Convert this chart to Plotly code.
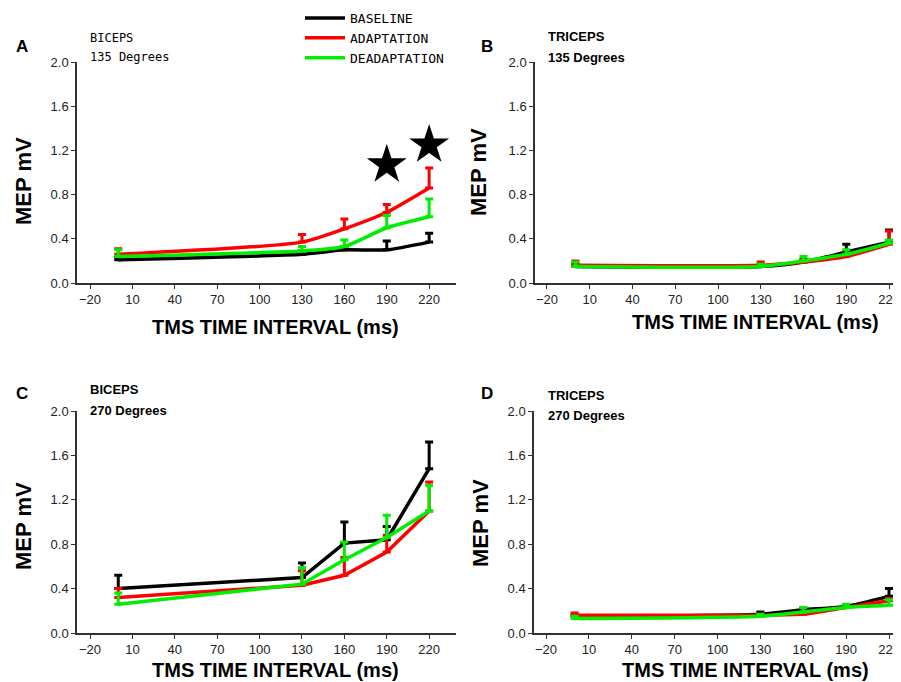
import plotly.graph_objects as go

x_ms = [0, 130, 160, 190, 220]
tick_vals = [-20, 10, 40, 70, 100, 130, 160, 190, 220]
y_ticks = [0.0, 0.4, 0.8, 1.2, 1.6, 2.0]

# Panel A: biceps 135 deg (mean, upper error bar top)
a_base = [0.21, 0.26, 0.30, 0.30, 0.37]
a_base_top = [0.23, 0.29, 0.33, 0.38, 0.45]
a_adapt = [0.26, 0.37, 0.49, 0.64, 0.86]
a_adapt_top = [0.31, 0.44, 0.58, 0.71, 1.04]
a_dead = [0.24, 0.29, 0.33, 0.50, 0.60]
a_dead_top = [0.30, 0.33, 0.39, 0.61, 0.76]
star_x = [190, 220]
star_y = [1.07, 1.25]

# Panel B: triceps 135 deg
b_base = [0.15, 0.15, 0.19, 0.28, 0.37]
b_base_top = [0.17, 0.17, 0.21, 0.35, 0.48]
b_adapt = [0.16, 0.16, 0.19, 0.24, 0.35]
b_adapt_top = [0.20, 0.19, 0.21, 0.26, 0.47]
b_dead = [0.15, 0.15, 0.20, 0.26, 0.36]
b_dead_top = [0.19, 0.17, 0.24, 0.30, 0.39]

# Panel C: biceps 270 deg
c_base = [0.40, 0.50, 0.81, 0.84, 1.48]
c_base_top = [0.52, 0.63, 1.00, 0.96, 1.72]
c_adapt = [0.32, 0.43, 0.52, 0.73, 1.10]
c_adapt_top = [0.40, 0.56, 0.68, 0.88, 1.36]
c_dead = [0.26, 0.44, 0.66, 0.86, 1.10]
c_dead_top = [0.36, 0.59, 0.82, 1.06, 1.33]

# Panel D: triceps 270 deg
d_base = [0.15, 0.17, 0.21, 0.24, 0.33]
d_base_top = [0.16, 0.19, 0.22, 0.25, 0.40]
d_adapt = [0.16, 0.16, 0.17, 0.23, 0.29]
d_adapt_top = [0.18, 0.17, 0.18, 0.24, 0.31]
d_dead = [0.13, 0.15, 0.19, 0.23, 0.25]
d_dead_top = [0.15, 0.17, 0.23, 0.26, 0.30]

series_names = ["BASELINE", "ADAPTATION", "DEADAPTATION"]
colors = ["#000000", "#ff0000", "#00ee00"]

panels = [
    ("x", "y", [(a_base, a_base_top), (a_adapt, a_adapt_top), (a_dead, a_dead_top)], "spline"),
    ("x2", "y2", [(b_base, b_base_top), (b_adapt, b_adapt_top), (b_dead, b_dead_top)], "spline"),
    ("x3", "y3", [(c_base, c_base_top), (c_adapt, c_adapt_top), (c_dead, c_dead_top)], "linear"),
    ("x4", "y4", [(d_base, d_base_top), (d_adapt, d_adapt_top), (d_dead, d_dead_top)], "spline"),
]

fig = go.Figure()
for pi, (xa, ya, series, shape) in enumerate(panels):
    for si in [0, 1, 2]:
        vals, tops = series[si]
        fig.add_trace(go.Scatter(
            x=x_ms, y=vals, xaxis=xa, yaxis=ya, mode="lines",
            name=series_names[si], showlegend=(pi == 0),
            line=dict(color=colors[si], width=3.5, shape=shape, smoothing=0.6),
            error_y=dict(type="data", symmetric=False,
                         array=[t - v for t, v in zip(tops, vals)],
                         arrayminus=[0] * len(vals),
                         color=colors[si], thickness=3, width=4),
        ))

fig.add_trace(go.Scatter(x=star_x, y=star_y, xaxis="x", yaxis="y", mode="markers",
                         marker=dict(symbol="star", size=30, color="black"),
                         showlegend=False, hoverinfo="skip"))

# The page body adds an 8px margin; size the figure to fill the rest of the window.
OFF = 8
W, H = 901 - OFF, 682 - OFF
def px_x(p):
    return (p - OFF) / W
def px_y(p):
    return 1 - (p - OFF) / H

FONT = "Liberation Sans, Arial"
MONO = "DejaVu Sans Mono, Liberation Mono, monospace"
axis_common = dict(showgrid=False, zeroline=False, showline=True, linecolor="#333333",
                   linewidth=1.5, ticks="outside", ticklen=4, tickcolor="#333333",
                   automargin=False, ticklabeloverflow="allow",
                   tickfont=dict(family=FONT, size=13, color="#222"))

domains = {
    "1": ([px_x(77), px_x(456)], [px_y(283), px_y(62)], [-29.2, 239]),
    "2": ([px_x(535), 1.0], [px_y(283), px_y(62)], [-28.4, 228.4]),
    "3": ([px_x(77), px_x(456)], [px_y(633), px_y(411)], [-29.2, 239]),
    "4": ([px_x(534), 1.0], [px_y(633), px_y(411)], [-28.4, 228.4]),
}
layout = {}
for k, (dx, dy, xr) in domains.items():
    sx = "" if k == "1" else k
    layout["xaxis" + sx] = dict(axis_common, domain=dx, range=xr, tickvals=tick_vals,
                                anchor="y" + sx)
    layout["yaxis" + sx] = dict(axis_common, domain=dy, range=[0, 2.0], tickvals=y_ticks,
                                tickformat=".1f", anchor="x" + sx)
fig.update_layout(**layout)

annots = []
letters = [("A", 22, 47), ("B", 487, 47), ("C", 22, 393), ("D", 487, 393)]
for t, xx, yy in letters:
    annots.append(dict(text="<b>" + t + "</b>", x=px_x(xx), y=px_y(yy), xref="paper", yref="paper",
                       showarrow=False, xanchor="center", yanchor="middle",
                       font=dict(family=FONT, size=17, color="black")))
labels = [
    ("BICEPS", 88, 38, False), ("135 Degrees", 88, 57, False),
    ("TRICEPS", 546, 37, True), ("135 Degrees", 546, 57, True),
    ("BICEPS", 88, 389, True), ("270 Degrees", 88, 410, True),
    ("TRICEPS", 546, 395, True), ("270 Degrees", 546, 415, True),
]
for t, xx, yy, bold in labels:
    annots.append(dict(text=("<b>%s</b>" % t) if bold else t, x=px_x(xx), y=px_y(yy),
                       xref="paper", yref="paper", showarrow=False,
                       xanchor="left", yanchor="middle",
                       font=dict(family=FONT if bold else MONO, size=13 if bold else 12,
                                 color="black")))

xtitles = [(275, 327), (755, 322), (275, 670), (745, 670)]
for xx, yy in xtitles:
    annots.append(dict(text="<b>TMS TIME INTERVAL (ms)</b>", x=px_x(xx), y=px_y(yy),
                       xref="paper", yref="paper", showarrow=False,
                       xanchor="center", yanchor="middle",
                       font=dict(family=FONT, size=20, color="black")))
ytitles = [(23, 181), (479, 172), (23, 526), (480, 523)]
for xx, yy in ytitles:
    annots.append(dict(text="<b>MEP mV</b>", x=px_x(xx), y=px_y(yy), textangle=-90,
                       xref="paper", yref="paper", showarrow=False,
                       xanchor="center", yanchor="middle",
                       font=dict(family=FONT, size=22, color="black")))

fig.update_layout(
    annotations=annots,
    width=W, height=H, margin=dict(l=0, r=0, t=0, b=0, autoexpand=False),
    paper_bgcolor="white", plot_bgcolor="white",
    showlegend=True,
    legend=dict(x=px_x(300), y=px_y(3), xanchor="left", yanchor="top",
                font=dict(family=MONO, size=13, color="black"),
                bgcolor="rgba(0,0,0,0)", tracegroupgap=0, itemwidth=40),
)

fig.write_html("out.html")
